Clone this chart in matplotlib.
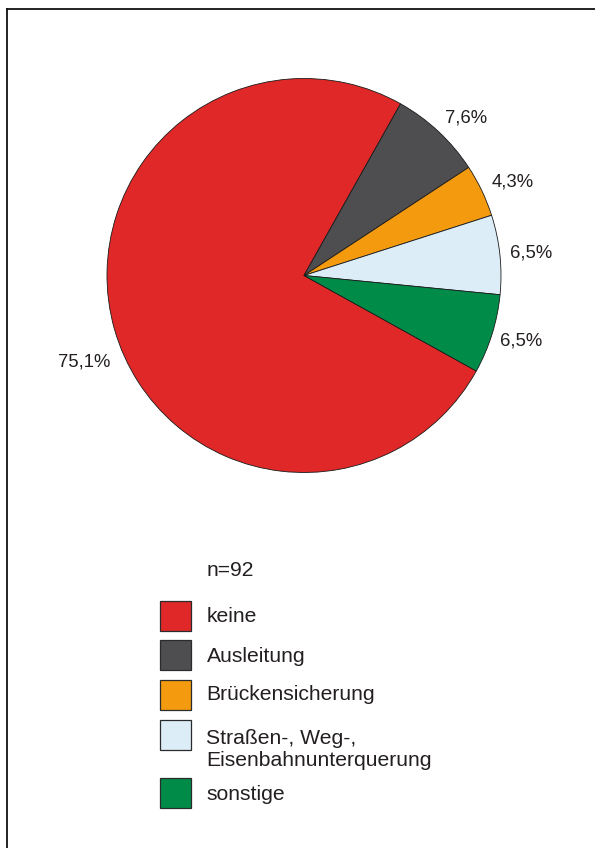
import numpy as np
import matplotlib
matplotlib.use("Agg")
import matplotlib.pyplot as plt
from matplotlib.patches import Rectangle
from matplotlib.lines import Line2D

plt.rcParams['font.family'] = ['Liberation Sans', 'DejaVu Sans']

# Data
categories = ["keine", "Ausleitung", "Brückensicherung",
              "Straßen-, Weg-,\nEisenbahnunterquerung", "sonstige"]
shares = [75.1, 7.6, 4.3, 6.5, 6.5]
share_labels = ["75,1%", "7,6%", "4,3%", "6,5%", "6,5%"]
colors = ["#df2827", "#4e4e50", "#f39a0f", "#dcedf8", "#008c48"]
sample_note = "n=92"

W, H = 595, 848
fig = plt.figure(figsize=(W / 100, H / 100), dpi=100)

# Pie axes: centre (304, 275.5) px, radius 197 px
cx, cy, R = 304, 275.5, 197
ax = fig.add_axes([(cx - R) / W, (H - cy - R) / H, 2 * R / W, 2 * R / H])
wedges, _ = ax.pie(shares, colors=colors, startangle=-29, counterclock=False,
                   radius=1.0,
                   wedgeprops=dict(edgecolor="#1a1a1a", linewidth=0.6))
ax.set_xlim(-1, 1)
ax.set_ylim(-1, 1)
ax.set_aspect("equal")
ax.axis("off")

# Percentage labels placed outside each wedge
label_dist = [1.2, 1.145, 1.16, 1.16, 1.15]
angle_shift = [5.7, -2.8, -1.5, -0.5, 0.5]
for w, lab, d, da in zip(wedges, share_labels, label_dist, angle_shift):
    mid = np.deg2rad((w.theta1 + w.theta2) / 2 + da)
    ax.text(d * np.cos(mid), d * np.sin(mid), lab, ha="center", va="center",
            fontsize=13.3, color="#231f20", clip_on=False)

# Overlay axes in pixel units for frame and legend
ov = fig.add_axes([0, 0, 1, 1])
ov.set_xlim(0, W)
ov.set_ylim(H, 0)
ov.axis("off")
ov.patch.set_alpha(0)

ov.add_line(Line2D([6.5, W], [9, 9], color="#111111", lw=1.3))
ov.add_line(Line2D([6.5, 6.5], [9, H], color="#111111", lw=1.3))

ov.text(206.5, 570, sample_note, ha="left", va="center", fontsize=15.2,
        color="#231f20")

box_tops = [601, 640, 680, 720, 778]
text_y = [617, 657, 695, 749, 795]
for col, name, top, ty in zip(colors, categories, box_tops, text_y):
    ov.add_patch(Rectangle((159.5, top), 31, 30, facecolor=col,
                           edgecolor="#2b2b2b", lw=0.9))
    ov.text(206.5, ty, name, ha="left", va="center", fontsize=15.2,
            color="#231f20", linespacing=1.2)

fig.savefig("out.png", dpi=100, facecolor="white")
